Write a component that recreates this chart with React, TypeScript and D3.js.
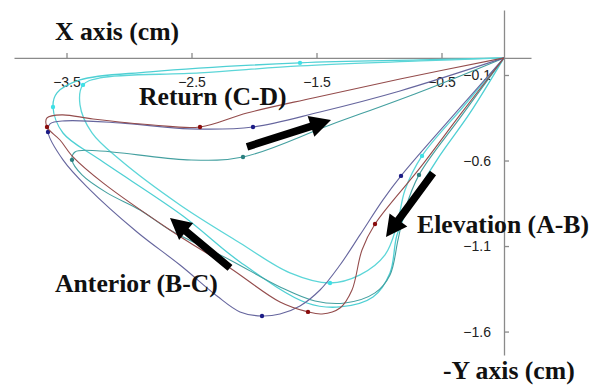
import * as d3 from 'd3';
import { useEffect, useRef } from 'react';

type Pt = [number, number];

// axis ticks (cm)
const xTicks = [-3.5, -2.5, -1.5, -0.5];
const yTicks = [-0.1, -0.6, -1.1, -1.6];

// shoulder trajectories: [x cm, y cm]
const redPath: Pt[] = [
    [0, 0], [-0.352, -0.333], [-0.672, -0.643], [-1.032, -0.971], [-1.136, -1.123],
    [-1.216, -1.357], [-1.312, -1.462], [-1.456, -1.497], [-1.568, -1.485], [-1.792, -1.427],
    [-2.192, -1.228], [-2.672, -1.006], [-3.208, -0.731], [-3.448, -0.579], [-3.552, -0.480],
    [-3.656, -0.404], [-3.656, -0.351], [-3.536, -0.333], [-3.288, -0.357], [-2.808, -0.392],
    [-2.432, -0.404], [-2.056, -0.322], [-1.528, -0.234], [-0.832, -0.123], [0, 0],
];
const redDots: Pt[] = [[-1.032, -0.971], [-1.568, -1.485], [-3.656, -0.404], [-2.432, -0.404]];

const bluePath: Pt[] = [
    [0, 0], [-0.416, -0.345], [-0.824, -0.690], [-0.968, -0.830], [-1.152, -1.035],
    [-1.312, -1.211], [-1.472, -1.357], [-1.632, -1.450], [-1.792, -1.497], [-1.936, -1.509],
    [-2.112, -1.485], [-2.296, -1.392], [-2.592, -1.211], [-2.936, -1.018], [-3.336, -0.754],
    [-3.528, -0.596], [-3.648, -0.433], [-3.632, -0.386], [-3.512, -0.368], [-3.072, -0.380],
    [-2.512, -0.415], [-2.008, -0.404], [-1.472, -0.316], [-0.832, -0.193], [0, 0],
];
const blueDots: Pt[] = [[-0.824, -0.690], [-1.936, -1.509], [-3.648, -0.433], [-2.008, -0.404]];

const tealPath: Pt[] = [
    [0, 0], [-0.352, -0.351], [-0.680, -0.684], [-0.792, -0.889], [-0.848, -1.064],
    [-0.912, -1.269], [-1.032, -1.374], [-1.272, -1.433], [-1.512, -1.421], [-1.792, -1.339],
    [-2.192, -1.181], [-2.672, -1.006], [-2.912, -0.889], [-3.176, -0.789], [-3.376, -0.684],
    [-3.456, -0.596], [-3.432, -0.550], [-3.232, -0.544], [-2.536, -0.596], [-2.088, -0.579],
    [-1.392, -0.392], [-0.672, -0.199], [0, 0],
];
const tealDots: Pt[] = [[-0.680, -0.684], [-3.456, -0.596], [-2.088, -0.579]];

const cyanPathA: Pt[] = [
    [0, 0], [-0.272, -0.322], [-0.536, -0.596], [-0.752, -0.860], [-0.856, -1.035],
    [-0.912, -1.257], [-1.048, -1.398], [-1.312, -1.456], [-1.576, -1.433], [-2.112, -1.193],
    [-2.568, -0.924], [-3.232, -0.596], [-3.528, -0.439], [-3.608, -0.287], [-3.576, -0.205],
    [-3.392, -0.129], [-2.832, -0.082], [-1.632, -0.029], [-0.672, -0.012], [0, 0],
];
const cyanDotsA: Pt[] = [[-3.608, -0.287], [-1.632, -0.029]];

const cyanPathB: Pt[] = [
    [0, 0], [-0.328, -0.287], [-0.656, -0.573], [-0.792, -0.772], [-0.856, -0.977],
    [-0.952, -1.152], [-1.152, -1.269], [-1.392, -1.316], [-1.712, -1.257], [-2.112, -1.082],
    [-2.592, -0.860], [-3.072, -0.596], [-3.296, -0.439], [-3.392, -0.275], [-3.368, -0.158],
    [-3.232, -0.117], [-2.432, -0.088], [-1.632, -0.047], [-0.672, -0.018], [0, 0],
];
const cyanDotsB: Pt[] = [[-0.656, -0.573], [-3.368, -0.158], [-1.392, -1.316]];

// direction arrows: [tail, tip] in cm
const arrowReturn: Pt[] = [[-2.056, -0.520], [-1.384, -0.363]];
const arrowElevation: Pt[] = [[-0.568, -0.673], [-0.944, -1.047]];
const arrowAnterior: Pt[] = [[-2.192, -1.228], [-2.672, -0.936]];

const phaseLabels = ['Return (C-D)', 'Elevation (A-B)', 'Anterior (B-C)'];

function App() {
    const ref = useRef<SVGSVGElement>(null);
    const width = 599;
    const height = 386;

    useEffect(() => {
        const svg = d3.select(ref.current);
        svg.selectAll('*').remove();

        const x = d3.scaleLinear().domain([-3.92, 0.216]).range([14, 531]);
        const y = d3.scaleLinear().domain([0.28, -1.737]).range([10, 355]);

        // axes cross at the origin
        const xAxis = svg.append('g')
            .attr('transform', `translate(0,${y(0)})`)
            .call(d3.axisBottom(x).tickValues(xTicks).tickSize(-5).tickSizeOuter(0).tickPadding(19));
        const yAxis = svg.append('g')
            .attr('transform', `translate(${x(0)},0)`)
            .call(d3.axisLeft(y).tickValues(yTicks).tickSize(-5).tickSizeOuter(0).tickPadding(13));

        [xAxis, yAxis].forEach(g => {
            g.selectAll('path, line').attr('stroke', '#8a8a8a').attr('stroke-width', 1.3);
            g.selectAll('text')
                .attr('fill', '#222')
                .style('font-family', '"Liberation Sans", Arial, sans-serif')
                .style('font-size', '14px');
        });

        const line = d3.line<Pt>()
            .x(d => x(d[0]))
            .y(d => y(d[1]))
            .curve(d3.curveCatmullRom.alpha(0.5));

        const series = [
            { path: cyanPathA, dots: cyanDotsA, stroke: '#4fd0d4', dot: '#3fe0e6', w: 1.3 },
            { path: cyanPathB, dots: cyanDotsB, stroke: '#5cd6d8', dot: '#3fe0e6', w: 1.3 },
            { path: tealPath, dots: tealDots, stroke: '#44a0a0', dot: '#2a7f7f', w: 1.1 },
            { path: bluePath, dots: blueDots, stroke: '#66669e', dot: '#1c1c86', w: 1.1 },
            { path: redPath, dots: redDots, stroke: '#944c4c', dot: '#8a0c0c', w: 1.1 },
        ];

        series.forEach(s => {
            svg.append('path')
                .datum(s.path)
                .attr('fill', 'none')
                .attr('stroke', s.stroke)
                .attr('stroke-width', s.w)
                .attr('d', line);
            svg.selectAll(null)
                .data(s.dots)
                .join('circle')
                .attr('cx', d => x(d[0]))
                .attr('cy', d => y(d[1]))
                .attr('r', 2.2)
                .attr('fill', s.dot);
        });

        // thick black arrows
        const arrowShape = (a: Pt[]) => {
            const x0 = x(a[0][0]), y0 = y(a[0][1]);
            const x1 = x(a[1][0]), y1 = y(a[1][1]);
            const len = Math.hypot(x1 - x0, y1 - y0);
            const ux = (x1 - x0) / len, uy = (y1 - y0) / len;
            const nx = -uy, ny = ux;
            const body = 3.8, head = 11, headLen = 21;
            const bx = x1 - ux * headLen, by = y1 - uy * headLen;
            const pts = [
                [x0 + nx * body, y0 + ny * body],
                [bx + nx * body, by + ny * body],
                [bx + nx * head, by + ny * head],
                [x1, y1],
                [bx - nx * head, by - ny * head],
                [bx - nx * body, by - ny * body],
                [x0 - nx * body, y0 - ny * body],
            ];
            return pts.map(p => p.join(',')).join(' ');
        };

        svg.selectAll('.arrow')
            .data([arrowReturn, arrowElevation, arrowAnterior])
            .join('polygon')
            .attr('class', 'arrow')
            .attr('points', d => arrowShape(d))
            .attr('fill', '#000');

        const titles = [
            { text: 'X axis (cm)', x: 55, y: 40 },
            { text: phaseLabels[0], x: 139, y: 105 },
            { text: phaseLabels[1], x: 417, y: 233 },
            { text: phaseLabels[2], x: 55, y: 292 },
            { text: '-Y axis (cm)', x: 443, y: 379 },
        ];
        svg.selectAll('.title')
            .data(titles)
            .join('text')
            .attr('class', 'title')
            .attr('x', d => d.x)
            .attr('y', d => d.y)
            .attr('fill', '#111')
            .style('font-family', '"Liberation Serif", "Times New Roman", serif')
            .style('font-weight', 'bold')
            .style('font-size', '25.7px')
            .text(d => d.text);
    }, []);

    return (
        <svg
            ref={ref}
            width={width}
            height={height}
            style={{ position: 'absolute', left: 0, top: 0, background: '#fff' }}
        />
    );
}

export default App;
